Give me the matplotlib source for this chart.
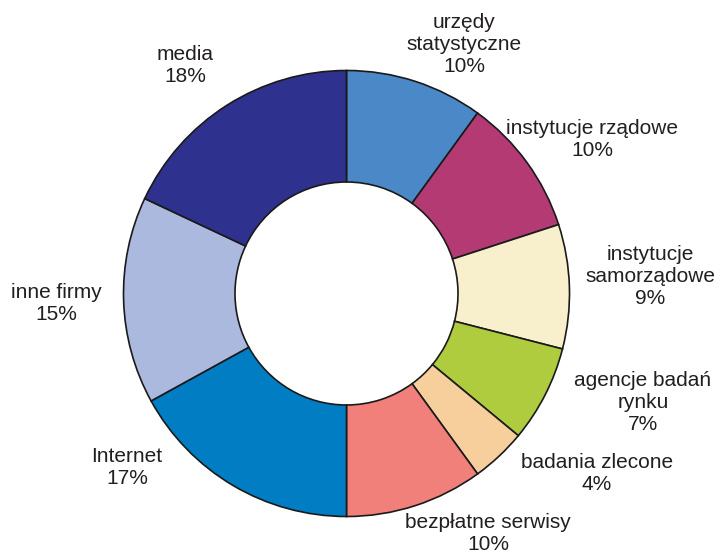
import matplotlib
matplotlib.use("Agg")
import matplotlib.pyplot as plt

plt.rcParams["font.family"] = ["Liberation Sans", "DejaVu Sans"]

# udział źródeł danych (%), od góry zgodnie z ruchem wskazówek zegara
labels = ["urzędy\nstatystyczne", "instytucje rządowe", "instytucje\nsamorządowe",
          "agencje badań\nrynku", "badania zlecone", "bezpłatne serwisy",
          "Internet", "inne firmy", "media"]
values = [10, 10, 9, 7, 4, 10, 17, 15, 18]
colors = ["#4A88C7", "#B33A73", "#F8EFCC", "#AECC3E", "#F7CF9C",
          "#F2807A", "#007DC3", "#AAB9DD", "#2E318D"]

# pozycje etykiet w pikselach (x, y od góry)
label_pos = [(464, 45), (592, 139), (650, 276), (643, 403), (597, 473),
             (488, 533), (127, 467), (56, 303), (185, 66)]

W, H = 720, 556
fig = plt.figure(figsize=(W / 100, H / 100), dpi=100)
ax = fig.add_axes([0, 0, 1, 1])
ax.set_xlim(0, W)
ax.set_ylim(0, H)
ax.set_aspect("equal")
ax.axis("off")

cx, cy, r = 346.5, H - 293.5, 223

ax.pie(values, colors=colors, startangle=90, counterclock=False,
       center=(cx, cy), radius=r, frame=True,
       wedgeprops=dict(width=r * 0.5, edgecolor="#1a1a1a", linewidth=1.2))
ax.set_xlim(0, W)
ax.set_ylim(0, H)
ax.axis("off")

for lab, v, (x, y) in zip(labels, values, label_pos):
    ax.text(x, H - y, f"{lab}\n{v}%", ha="center", va="center",
            fontsize=15, color="#231F20", linespacing=1.2)

fig.savefig("out.png", dpi=100)
